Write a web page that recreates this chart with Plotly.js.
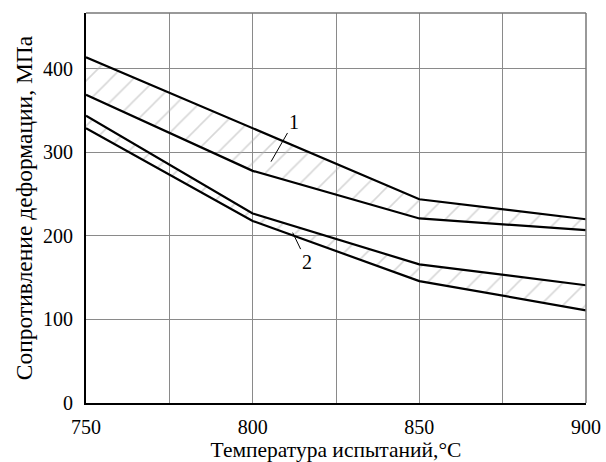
<!DOCTYPE html>
<html>
<head>
<meta charset="utf-8">
<script src="https://cdn.plot.ly/plotly-3.0.1.min.js"></script>
<style>html,body{margin:0;padding:0;background:#fff;}#chart{width:606px;height:462px;}</style>
</head>
<body>
<div id="chart"></div>
<script>
const temperature = [750, 800, 850, 900];
const band1Upper = [414, 329, 244, 220];
const band1Lower = [369, 278, 221, 207];
const band2Upper = [344, 227, 166, 141];
const band2Lower = [329, 218, 146, 111];
const xTickVals = [750, 800, 850, 900];
const yTickVals = [0, 100, 200, 300, 400];

const lineStyle = {color: '#000', width: 2.2};
const pattern = {shape: '/', fgcolor: '#b0b0b0', bgcolor: 'rgba(0,0,0,0)', size: 16, solidity: 0.1, fillmode: 'overlay'};

const traces = [
  {x: temperature, y: band1Lower, mode: 'lines', line: lineStyle, hoverinfo: 'skip', showlegend: false},
  {x: temperature, y: band1Upper, mode: 'lines', line: lineStyle, fill: 'tonexty', fillcolor: 'rgba(0,0,0,0)', fillpattern: pattern, hoverinfo: 'skip', showlegend: false},
  {x: temperature, y: band2Lower, mode: 'lines', line: lineStyle, hoverinfo: 'skip', showlegend: false},
  {x: temperature, y: band2Upper, mode: 'lines', line: lineStyle, fill: 'tonexty', fillcolor: 'rgba(0,0,0,0)', fillpattern: pattern, hoverinfo: 'skip', showlegend: false}
];

const serif = 'Liberation Serif';

const layout = {
  width: 606, height: 462,
  margin: {l: 86, r: 20, t: 13, b: 59},
  paper_bgcolor: '#fff', plot_bgcolor: '#fff',
  font: {family: serif, size: 20, color: '#000'},
  xaxis: {
    range: [750, 900], tickvals: xTickVals, ticks: 'outside', ticklen: 0, ticklabelstandoff: 5,
    tickfont: {family: serif, size: 20, color: '#000'},
    showgrid: true, gridcolor: '#8a8a8a', gridwidth: 1,
    minor: {dtick: 25, tick0: 750, showgrid: true, gridcolor: '#8a8a8a', gridwidth: 1, ticklen: 0},
    showline: true, linecolor: '#000', linewidth: 2, zeroline: false,
    title: {text: 'Температура испытаний,°C', font: {family: serif, size: 21.5}, standoff: 7}
  },
  yaxis: {
    range: [0, 467], tickvals: yTickVals, ticks: 'outside', ticklen: 0, ticklabelstandoff: 7,
    tickfont: {family: serif, size: 20, color: '#000'},
    showgrid: true, gridcolor: '#8a8a8a', gridwidth: 1,
    showline: true, linecolor: '#000', linewidth: 2, zeroline: false,
    title: {text: 'Сопротивление деформации, МПа', font: {family: serif, size: 23.5}, standoff: 4}
  },
  shapes: [
    {type: 'line', xref: 'paper', yref: 'paper', x0: 0, x1: 1, y0: 1, y1: 1, line: {color: '#777', width: 1.5}},
    {type: 'line', xref: 'paper', yref: 'paper', x0: 1, x1: 1, y0: 0, y1: 1, line: {color: '#777', width: 1.5}}
  ],
  annotations: [
    {x: 805.5, y: 289, text: '1', showarrow: true, arrowhead: 0, arrowwidth: 1, arrowcolor: '#000', ax: 23, ay: -40, font: {family: serif, size: 20}},
    {x: 812, y: 204, text: '2', showarrow: true, arrowhead: 0, arrowwidth: 1, arrowcolor: '#000', ax: 14, ay: 29, font: {family: serif, size: 20}}
  ]
};

Plotly.newPlot('chart', traces, layout, {displayModeBar: false, staticPlot: true});
</script>
</body>
</html>
